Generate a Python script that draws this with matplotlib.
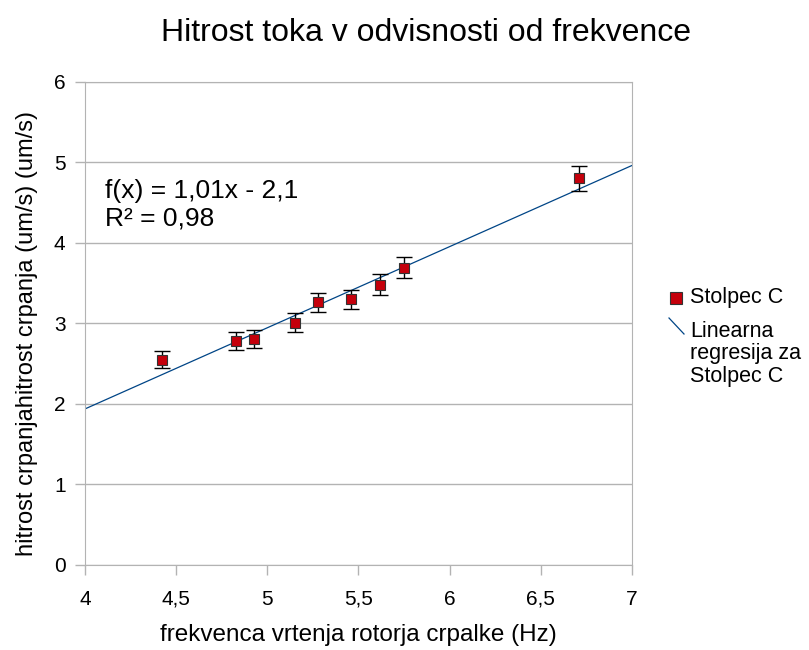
import numpy as np
import matplotlib.pyplot as plt
from matplotlib.lines import Line2D

plt.rcParams['font.family'] = ['Liberation Sans', 'DejaVu Sans']

# measured points (frequency in Hz, flow speed in um/s)
freq = [4.42, 4.83, 4.93, 5.15, 5.28, 5.46, 5.62, 5.75, 6.71]
speed = [2.55, 2.78, 2.81, 3.01, 3.26, 3.30, 3.48, 3.69, 4.80]
err = [0.11, 0.11, 0.11, 0.12, 0.12, 0.12, 0.13, 0.13, 0.15]

xticks = [4, 4.5, 5, 5.5, 6, 6.5, 7]
xticklabels = ['4', '4,5', '5', '5,5', '6', '6,5', '7']
yticks = [0, 1, 2, 3, 4, 5, 6]

fig = plt.figure(figsize=(8.09, 6.5), dpi=100)
ax = fig.add_axes([0.105, 0.131, 0.676, 0.743])

#regression over the points
k, n = np.polyfit(freq, speed, 1)
xx = np.array([4, 7])
ax.plot(xx, k * xx + n, color='#004586', lw=0.9, zorder=2)

ax.errorbar(freq, speed, yerr=err, fmt='none', ecolor='black', elinewidth=1,
            capsize=5.5, capthick=1, zorder=3)
ax.plot(freq, speed, ls='none', marker='s', ms=7, mfc='#c5000b', mec='#333333',
        mew=0.8, zorder=4)

ax.set_xlim(4, 7)
ax.set_ylim(0, 6)
ax.set_xticks(xticks)
ax.set_xticklabels(xticklabels)
ax.set_yticks(yticks)
ax.tick_params(labelsize=15, length=7, color='#b3b3b3', width=1)
ax.tick_params(axis='x', pad=11)
ax.tick_params(axis='y', pad=7)
ax.yaxis.grid(True, color='#b3b3b3', lw=1)
ax.set_axisbelow(True)
for s in ax.spines.values():
    s.set_color('#b3b3b3')

ax.set_xlabel('frekvenca vrtenja rotorja crpalke (Hz)', fontsize=17.5, labelpad=11)
ax.set_ylabel('hitrost crpanjahitrost crpanja (um/s) (um/s)', fontsize=17, labelpad=11)
ax.yaxis.label.set_y(0.48)
fig.suptitle('Hitrost toka v odvisnosti od frekvence', fontsize=23, x=0.526, y=0.973)

ax.text(4.11, 4.47, 'f(x) = 1,01x - 2,1\nR² = 0,98', fontsize=19,
        va='center', ha='left', linespacing=1.2)

# legend drawn by hand (square + diagonal line)
fig.add_artist(Line2D([676 / 809], [1 - 298 / 650], marker='s', ms=8, mfc='#c5000b',
                      mec='#333333', mew=0.8, ls='none', transform=fig.transFigure))
fig.text(690 / 809, 1 - 298 / 650, 'Stolpec C', fontsize=15.5, va='center')
fig.add_artist(Line2D([669 / 809, 684 / 809], [1 - 318 / 650, 1 - 334 / 650],
                      color='#004586', lw=0.9, transform=fig.transFigure))
fig.text(690 / 809, 1 - 354 / 650, 'Linearna\nregresija za\nStolpec C', fontsize=15.5,
         va='center', linespacing=1.07)

fig.savefig('out.png', dpi=100)
